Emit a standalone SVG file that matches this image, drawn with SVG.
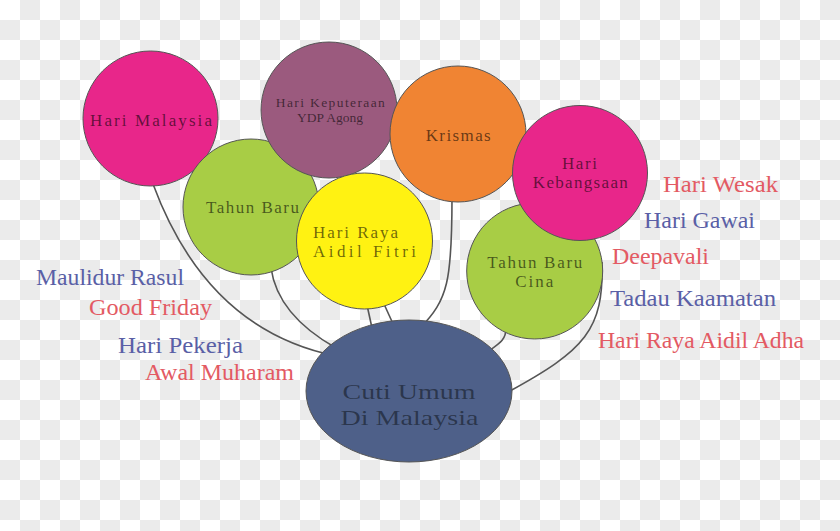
<svg xmlns="http://www.w3.org/2000/svg" width="840" height="531" viewBox="0 0 840 531">
<defs>
<pattern id="chk" width="40" height="40" patternUnits="userSpaceOnUse">
<rect width="40" height="40" fill="#ffffff"/>
<rect x="20" y="0" width="20" height="20" fill="#ebebeb"/>
<rect x="0" y="20" width="20" height="20" fill="#ebebeb"/>
</pattern>
</defs>
<style>
.node{stroke:#555;stroke-width:1}
.nt{font-family:"Liberation Serif","Times New Roman",serif;font-size:17px;fill:#000;fill-opacity:0.58;text-anchor:middle}
.nts{font-family:"Liberation Serif","Times New Roman",serif;font-size:13.5px;fill:#000;fill-opacity:0.58;text-anchor:middle}
.ct{font-family:"Liberation Serif","Times New Roman",serif;font-size:22px;fill:#000;fill-opacity:0.45;text-anchor:middle}
.lb{font-family:"Liberation Serif","Times New Roman",serif;font-size:23px}
.red{fill:#e35a63}
.blue{fill:#5a5fa6}
.con{fill:none;stroke:#555;stroke-width:1.6}
</style>
<rect width="840" height="531" fill="url(#chk)"/>
<g id="connectors">
<path class="con" d="M153,184 Q207,330 336,356"/>
<path class="con" d="M271,268 Q277.6,315 336,348"/>
<path class="con" d="M367,305 L372,328"/>
<path class="con" d="M384,304 L394,326"/>
<path class="con" d="M452,198 C452,280 448,300 420,328"/>
<path class="con" d="M506,328 C506,340 500,343 486,353"/>
<path class="con" d="M602,262 C604,330 585,350 508,392"/>
</g>
<g id="hari-malaysia">
<circle class="node" cx="150.5" cy="118.5" r="67.5" fill="#e8268a"/>
<text class="nt" x="151" y="126" textLength="122" lengthAdjust="spacing">Hari Malaysia</text>
</g>
<g id="tahun-baru">
<circle class="node" cx="251" cy="207" r="68" fill="#a8cd45"/>
<text class="nt" x="252.5" y="213" textLength="93" lengthAdjust="spacing">Tahun Baru</text>
</g>
<g id="hari-keputeraan">
<circle class="node" cx="329" cy="110" r="68" fill="#9b5a7e"/>
<text class="nts" x="330.3" y="106.5" textLength="109" lengthAdjust="spacing">Hari Keputeraan</text>
<text class="nts" x="330" y="121.5" textLength="66" lengthAdjust="spacing">YDP Agong</text>
</g>
<g id="krismas">
<circle class="node" cx="458" cy="134" r="68" fill="#f08433"/>
<text class="nt" x="458.2" y="141" textLength="65" lengthAdjust="spacing">Krismas</text>
</g>
<g id="hari-raya-aidil-fitri">
<circle class="node" cx="364.5" cy="241" r="68" fill="#fff212"/>
<text class="nt" x="313" y="237.5" textLength="85" lengthAdjust="spacing" style="text-anchor:start">Hari Raya</text>
<text class="nt" x="313" y="257" textLength="103" lengthAdjust="spacing" style="text-anchor:start">Aidil Fitri</text>
</g>
<g id="tahun-baru-cina">
<circle class="node" cx="534.7" cy="271" r="68" fill="#a8cd45"/>
<text class="nt" x="534.8" y="268" textLength="95" lengthAdjust="spacing">Tahun Baru</text>
<text class="nt" x="534.2" y="287" textLength="38" lengthAdjust="spacing">Cina</text>
</g>
<g id="hari-kebangsaan">
<circle class="node" cx="580" cy="173" r="67.5" fill="#e8268a"/>
<text class="nt" x="579.5" y="169" textLength="35" lengthAdjust="spacing">Hari</text>
<text class="nt" x="580.3" y="188" textLength="95" lengthAdjust="spacing">Kebangsaan</text>
</g>
<g id="cuti-umum">
<ellipse class="node" cx="409" cy="391" rx="103" ry="71" fill="#4e6089"/>
<text class="ct" x="409" y="399" textLength="133" lengthAdjust="spacingAndGlyphs">Cuti Umum</text>
<text class="ct" x="409.5" y="424.5" textLength="138" lengthAdjust="spacingAndGlyphs">Di Malaysia</text>
</g>
<g id="labels">
<text class="lb blue" x="36" y="285" textLength="148" lengthAdjust="spacingAndGlyphs">Maulidur Rasul</text>
<text class="lb red" x="89" y="315" textLength="123" lengthAdjust="spacingAndGlyphs">Good Friday</text>
<text class="lb blue" x="118" y="353" textLength="125" lengthAdjust="spacingAndGlyphs">Hari Pekerja</text>
<text class="lb red" x="145" y="380" textLength="149" lengthAdjust="spacingAndGlyphs">Awal Muharam</text>
<text class="lb red" x="663" y="192" textLength="115" lengthAdjust="spacingAndGlyphs">Hari Wesak</text>
<text class="lb blue" x="644" y="228" textLength="111" lengthAdjust="spacingAndGlyphs">Hari Gawai</text>
<text class="lb red" x="612" y="264" textLength="97" lengthAdjust="spacingAndGlyphs">Deepavali</text>
<text class="lb blue" x="610" y="306" textLength="166" lengthAdjust="spacingAndGlyphs">Tadau Kaamatan</text>
<text class="lb red" x="598" y="348" textLength="206" lengthAdjust="spacingAndGlyphs">Hari Raya Aidil Adha</text>
</g>
</svg>
